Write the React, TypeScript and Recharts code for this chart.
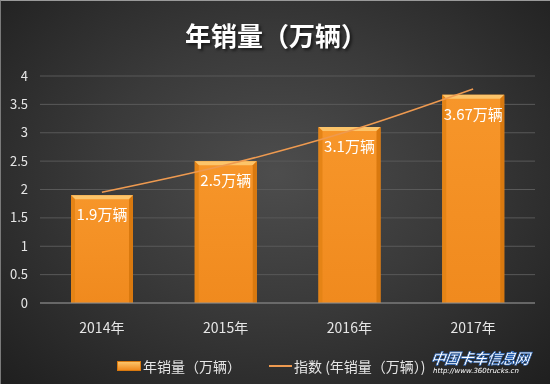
import {
  ComposedChart,
  Bar,
  Line,
  XAxis,
  YAxis,
  CartesianGrid,
  LabelList,
} from "recharts";

const years = ["2014年", "2015年", "2016年", "2017年"];
const sales = [1.9, 2.5, 3.1, 3.67];
// exponential trend line ("指数")
const trend = [1.95, 2.43, 3.03, 3.77];
const yTicks = [0, 0.5, 1, 1.5, 2, 2.5, 3, 3.5, 4];

const data = years.map((year, i) => ({
  year,
  sales: sales[i],
  trend: trend[i],
}));

const FONT = "'Noto Sans CJK SC', 'Noto Sans', sans-serif";

const BevelBar = (props: any) => {
  const { x, y, width, height } = props;
  if (!height || height <= 0) return null;
  const b = 4;
  return (
    <g>
      <rect x={x} y={y} width={width} height={height} fill="url(#barFill)" />
      {/* top bevel */}
      <polygon
        points={`${x},${y} ${x + width},${y} ${x + width - b},${y + b} ${x + b},${y + b}`}
        fill="#FCC46A"
      />
      {/* side bevels */}
      <polygon
        points={`${x},${y} ${x + b},${y + b} ${x + b},${y + height} ${x},${y + height}`}
        fill="#E58416"
      />
      <polygon
        points={`${x + width},${y} ${x + width - b},${y + b} ${x + width - b},${y + height} ${x + width},${y + height}`}
        fill="#D9790F"
      />
    </g>
  );
};

const SalesLabel = (props: any) => {
  const { x, y, width, value } = props;
  return (
    <text
      x={x + width / 2}
      y={y + 25}
      textAnchor="middle"
      fill="#FFFFFF"
      fontSize={15}
      fontFamily={FONT}
    >
      {`${value}万辆`}
    </text>
  );
};

const App = () => {
  return (
    <div
      style={{
        position: "fixed",
        left: 0,
        top: 0,
        width: 550,
        height: 384,
        background:
          "radial-gradient(ellipse at 50% 45%, #4d4d4d 0%, #3a3a3a 45%, #1f1f1f 100%)",
        fontFamily: FONT,
        overflow: "hidden",
        boxSizing: "border-box",
        borderTop: "1px solid #9a9a9a",
        borderLeft: "1px solid #7a7a7a",
      }}
    >
      <div
        style={{
          position: "absolute",
          top: 15,
          left: 0,
          width: 550,
          textAlign: "center",
          color: "#FFFFFF",
          fontSize: 26,
          fontWeight: 700,
          textShadow: "2px 2px 3px rgba(0,0,0,0.6)",
        }}
      >
        年销量（万辆）
      </div>

      <div style={{ position: "absolute", left: 0, top: 0 }}>
        <ComposedChart
          width={550}
          height={384}
          data={data}
          margin={{ top: 75, right: 16, bottom: 52, left: 9 }}
        >
          <defs>
            <linearGradient id="barFill" x1="0" y1="0" x2="0" y2="1">
              <stop offset="0%" stopColor="#F7962A" />
              <stop offset="100%" stopColor="#F08A1E" />
            </linearGradient>
          </defs>
          <CartesianGrid
            vertical={false}
            stroke="#595959"
            strokeWidth={1}
          />
          <XAxis
            dataKey="year"
            axisLine={{ stroke: "#8c8c8c", strokeWidth: 1 }}
            tickLine={false}
            height={30}
            tick={{ fill: "#E6E6E6", fontSize: 14, fontFamily: FONT }}
            tickMargin={14}
          />
          <YAxis
            domain={[0, 4]}
            ticks={yTicks}
            width={30}
            axisLine={false}
            tickLine={false}
            tick={{ fill: "#E6E6E6", fontSize: 13, fontFamily: FONT }}
            tickMargin={6}
          />
          <Bar
            dataKey="sales"
            barSize={62}
            shape={BevelBar}
            isAnimationActive={false}
          >
            <LabelList dataKey="sales" content={SalesLabel} />
          </Bar>
          <Line
            dataKey="trend"
            type="monotone"
            stroke="#EE9A50"
            strokeWidth={1.5}
            dot={false}
            activeDot={false}
            isAnimationActive={false}
          />
        </ComposedChart>
      </div>

      {/* legend */}
      <div
        style={{
          position: "absolute",
          top: 355,
          left: 116,
          display: "flex",
          alignItems: "center",
          color: "#E6E6E6",
          fontSize: 14,
          whiteSpace: "nowrap",
        }}
      >
        <span
          style={{
            display: "inline-block",
            width: 22,
            height: 8,
            background: "linear-gradient(#FCC46A, #F08A1E)",
            border: "1px solid #D9790F",
            marginRight: 2,
          }}
        />
        <span>年销量（万辆）</span>
        <span
          style={{
            display: "inline-block",
            width: 23,
            height: 2,
            background: "#EE9A50",
            marginLeft: 28,
            marginRight: 2,
          }}
        />
        <span>指数 (年销量（万辆）)</span>
      </div>

      {/* watermark */}
      <div
        style={{
          position: "absolute",
          left: 430,
          top: 346,
          fontSize: 15,
          fontStyle: "italic",
          fontWeight: 700,
          color: "#FFFFFF",
          WebkitTextStroke: "0.6px #1e5bb0",
          letterSpacing: -1,
          whiteSpace: "nowrap",
          transform: "skewX(-8deg)",
        }}
      >
        中国卡车信息网
      </div>
      <div
        style={{
          position: "absolute",
          left: 432,
          top: 366,
          fontSize: 7,
          fontStyle: "italic",
          fontFamily: "'DejaVu Sans', sans-serif",
          color: "#FFFFFF",
          whiteSpace: "nowrap",
        }}
      >
        http://www.360trucks.cn
      </div>
    </div>
  );
};

export default App;
